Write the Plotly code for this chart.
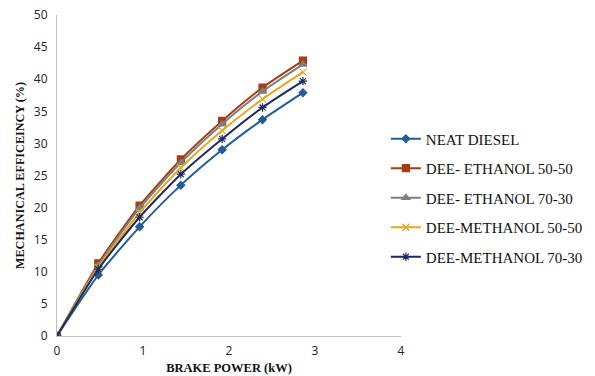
import plotly.graph_objects as go

brake_power = [0, 0.48, 0.96, 1.44, 1.92, 2.39, 2.86]
neat_diesel = [0, 9.5, 17.0, 23.5, 29.0, 33.7, 37.9]
dee_eth_5050 = [0, 11.3, 20.3, 27.5, 33.5, 38.7, 42.9]
dee_eth_7030 = [0, 11.0, 19.9, 27.0, 33.0, 38.1, 42.3]
dee_meth_5050 = [0, 10.7, 19.2, 26.2, 32.0, 36.9, 41.1]
dee_meth_7030 = [0, 10.4, 18.5, 25.2, 30.7, 35.6, 39.7]

series = [
    ("NEAT DIESEL", neat_diesel, "#245C97", "diamond", 6),
    ("DEE- ETHANOL 50-50", dee_eth_5050, "#A63D14", "square", 7),
    ("DEE- ETHANOL 70-30", dee_eth_7030, "#7F7F7F", "triangle-up", 7),
    ("DEE-METHANOL 50-50", dee_meth_5050, "#E5A81E", "x-thin", 7),
    ("DEE-METHANOL 70-30", dee_meth_7030, "#1C2A5E", "asterisk", 7),
]

fig = go.Figure()
for i, (name, ys, color, sym, sz) in enumerate(series):
    fig.add_trace(go.Scatter(
        x=brake_power, y=ys, name=name, mode="lines+markers",
        line=dict(color=color, width=2, shape="spline", smoothing=0.6),
        marker=dict(symbol=sym, size=sz, color=color,
                    line=dict(color=color, width=1.2)),
        legendgroup=f"g{i}",
    ))

fig.update_layout(
    width=595, height=376,
    margin=dict(l=57, r=194, t=15, b=40, autoexpand=False),
    paper_bgcolor="white", plot_bgcolor="white",
    showlegend=True,
    legend=dict(x=0.956, xanchor="left", y=0.43, yanchor="middle",
                font=dict(family="Liberation Serif", size=15, color="#111111"),
                tracegroupgap=7, itemwidth=30),
    xaxis=dict(range=[0, 4], dtick=1, showgrid=False, zeroline=False,
               showline=True, linecolor="#BFBFBF", linewidth=1,
               ticks="", ticklabelstandoff=4, automargin=False,
               tickfont=dict(family="Open Sans", size=12, color="#222222"),
               title=dict(text="<b>BRAKE POWER (kW)</b>", standoff=4,
                          font=dict(family="Liberation Serif", size=12.5, color="#111111"))),
    yaxis=dict(range=[0, 50], dtick=5, showgrid=False, zeroline=False,
               showline=True, linecolor="#BFBFBF", linewidth=1,
               ticks="", ticklabelstandoff=6, automargin=False,
               tickfont=dict(family="Open Sans", size=12, color="#222222"),
               title=dict(text="<b>MECHANICAL EFFICEINCY (%)</b>", standoff=6,
                          font=dict(family="Liberation Serif", size=12.2, color="#111111"))),
)

fig.write_html("out.html")
